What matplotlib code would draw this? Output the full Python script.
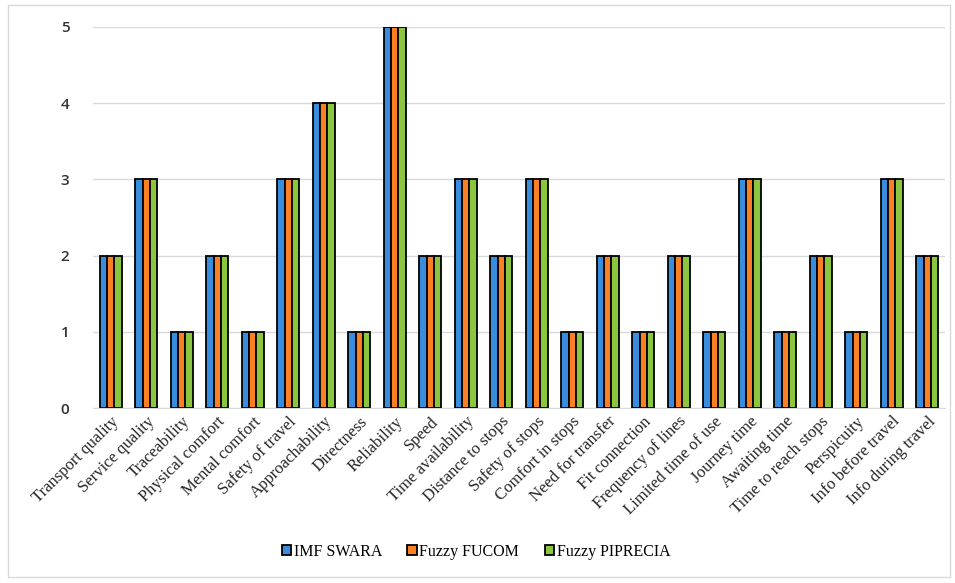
import numpy as np
import matplotlib.pyplot as plt
from matplotlib.patches import Rectangle

# Kriterien und Rangwerte je Methode
kriterien = [
    "Transport quality", "Service quality", "Traceability", "Physical comfort",
    "Mental comfort", "Safety of travel", "Approachability", "Directness",
    "Reliability", "Speed", "Time availability", "Distance to stops",
    "Safety of stops", "Comfort in stops", "Need for transfer", "Fit connection",
    "Frequency of lines", "Limited time of use", "Journey time", "Awaiting time",
    "Time to reach stops", "Perspicuity", "Info before travel", "Info during travel",
]
imf_swara = [2, 3, 1, 2, 1, 3, 4, 1, 5, 2, 3, 2, 3, 1, 2, 1, 2, 1, 3, 1, 2, 1, 3, 2]
fuzzy_fucom = [2, 3, 1, 2, 1, 3, 4, 1, 5, 2, 3, 2, 3, 1, 2, 1, 2, 1, 3, 1, 2, 1, 3, 2]
fuzzy_piprecia = [2, 3, 1, 2, 1, 3, 4, 1, 5, 2, 3, 2, 3, 1, 2, 1, 2, 1, 3, 1, 2, 1, 3, 2]

reihen = [
    ("IMF SWARA", imf_swara, "#3a8ddc"),
    ("Fuzzy FUCOM", fuzzy_fucom, "#fb7f23"),
    ("Fuzzy PIPRECIA", fuzzy_piprecia, "#8cc63f"),
]

fig = plt.figure(figsize=(9.55, 5.83), dpi=100)
ax = fig.add_axes([93 / 955, 1 - 408 / 583, 852 / 955, 381 / 583])

x = np.arange(len(kriterien))
breite = 0.21
for i, (name, werte, farbe) in enumerate(reihen):
    ax.bar(x + (i - 1) * breite, werte, breite, color=farbe, edgecolor="black",
           linewidth=1.3, label=name, zorder=3)

ax.set_xlim(-0.5, len(kriterien) - 0.5)
ax.set_ylim(0, 5)
ax.set_yticks(range(6))
ax.yaxis.grid(True, color="#d9d9d9", linewidth=1)
ax.set_axisbelow(True)
for s in ["top", "right", "left"]:
    ax.spines[s].set_visible(False)
ax.spines["bottom"].set_color("#d9d9d9")
ax.tick_params(axis="both", length=0)
ax.tick_params(axis="y", pad=17, labelsize=11, labelcolor="#333333")
for lbl in ax.get_yticklabels():
    lbl.set_fontfamily("Open Sans")
    lbl.set_fontweight("semibold")

ax.set_xticks(x)
ax.set_xticklabels(kriterien, rotation=45, ha="right", rotation_mode="anchor",
                   fontfamily="Liberation Serif", fontsize=12, color="#262626")
ax.tick_params(axis="x", pad=4)

leg = fig.legend(loc="center", bbox_to_anchor=(476 / 955, 1 - 552 / 583), ncol=3,
                 frameon=False, prop={"family": "Liberation Serif", "size": 11.5},
                 handlelength=0.6, handleheight=0.6, handletextpad=0.15,
                 columnspacing=1.6)
for h in leg.legend_handles:
    h.set_linewidth(1.3)

# heller Rahmen um das Diagramm
fig.patches.append(Rectangle((8 / 955, 1 - 577 / 583), 942 / 955, 572 / 583,
                             transform=fig.transFigure, fill=False,
                             edgecolor="#d9d9d9", linewidth=1))

fig.savefig("out.png", dpi=100)
